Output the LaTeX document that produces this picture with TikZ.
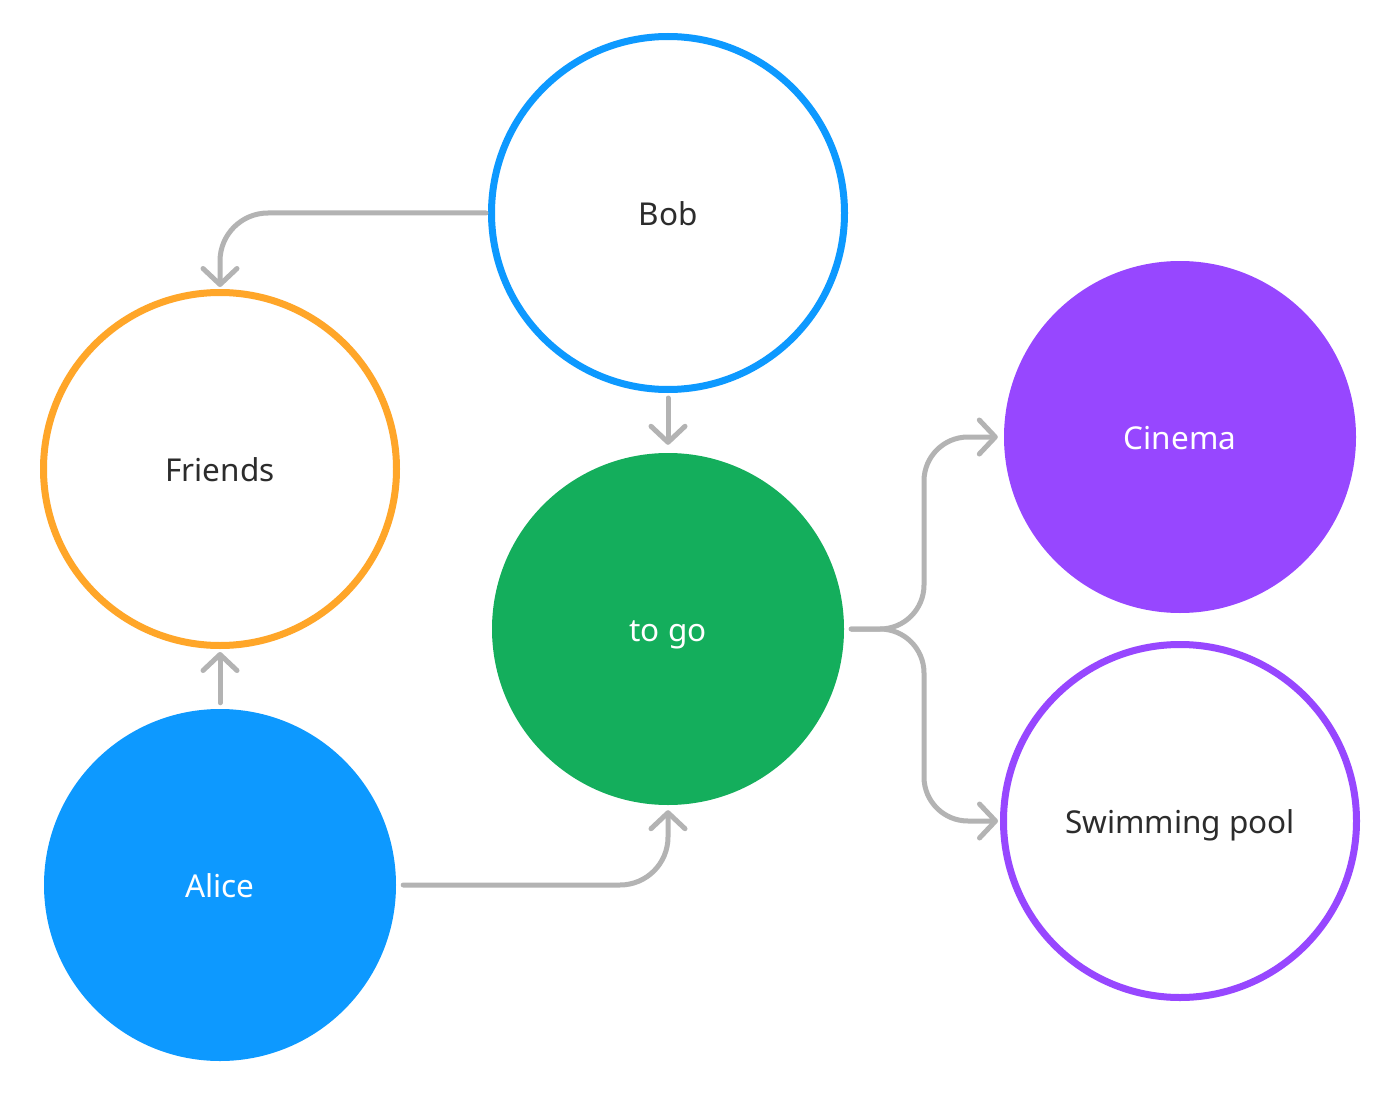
\documentclass[tikz,border=0pt]{standalone}
\usepackage{fontspec}
\setmainfont{Noto Sans}
\usetikzlibrary{arrows.meta}
\definecolor{cblue}{HTML}{0D99FF}
\definecolor{corange}{HTML}{FFA629}
\definecolor{cgreen}{HTML}{14AE5C}
\definecolor{cpurple}{HTML}{9747FF}
\definecolor{cgray}{HTML}{B3B3B3}
\definecolor{textdark}{HTML}{2C2C2C}
\begin{document}
\begin{tikzpicture}[x=1pt,y=-1pt,
  lbl/.style={font=\fontsize{31.5}{38}\selectfont,text height=26pt,text depth=1.6pt},
  ring/.style={lbl,circle,draw,line width=7pt,minimum size=353pt,inner sep=0pt,fill=white,text=textdark},
  disc/.style={lbl,circle,minimum size=352pt,inner sep=0pt,text=white},
  conn/.style={draw=cgray,line width=5pt,line cap=round,rounded corners=44pt,
    -{Straight Barb[length=16pt,width=34pt,round]}}]
\useasboundingbox[fill=white] (0,0) rectangle (1400,1094);
\node[ring,draw=cblue] (bob) at (668,213) {Bob};
\node[ring,draw=corange] (friends) at (220,469) {Friends};
\node[disc,fill=cblue] (alice) at (220,885) {Alice};
\node[disc,fill=cgreen] (togo) at (668,629) {to go};
\node[disc,fill=cpurple] (cinema) at (1180,437) {Cinema};
\node[ring,draw=cpurple] (pool) at (1180,821) {Swimming pool};
\coordinate (split) at (924,629);
\draw[conn,rounded corners=48pt,shorten <=2pt,shorten >=2pt] (bob.west) -| (friends.north);
\draw[conn,shorten <=5pt,shorten >=8pt] (bob.south) -- (togo.north);
\draw[conn,shorten <=6pt,shorten >=3pt] (alice.north) -- (friends.south);
\draw[conn,rounded corners=48pt,shorten <=7pt,shorten >=5pt] (alice.east) -| (togo.south);
\draw[conn,shorten <=7pt,shorten >=6pt] (togo.east) -- (split) |- (cinema.west);
\draw[conn,shorten <=7pt,shorten >=2pt] (togo.east) -- (split) |- (pool.west);
\end{tikzpicture}
\end{document}
